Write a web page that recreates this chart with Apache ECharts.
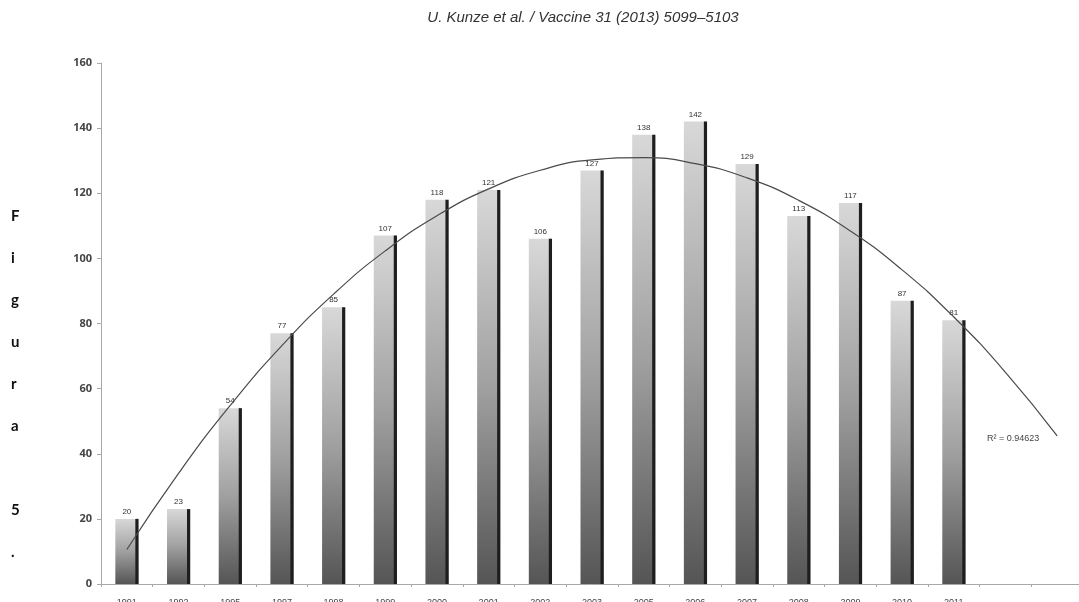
<!DOCTYPE html>
<html>
<head>
<meta charset="utf-8">
<script src="https://cdn.jsdelivr.net/npm/echarts@6/dist/echarts.min.js"></script>
<style>
  html, body { margin: 0; padding: 0; background: #fff; }
  #chart { width: 1079px; height: 602px; }
</style>
</head>
<body>
<div id="chart"></div>
<script>
// Years on the x axis (two trailing empty slots carry the trend projection)
const years = ['1991', '1992', '1995', '1997', '1998', '1999', '2000', '2001', '2002',
               '2003', '2005', '2006', '2007', '2008', '2009', '2010', '2011', '', ''];
// Number of cases per year
const cases = [20, 23, 54, 77, 85, 107, 118, 121, 106, 127, 138, 142, 129, 113, 117, 87, 81];
const yTicks = [0, 20, 40, 60, 80, 100, 120, 140, 160];
const rSquaredText = 'R\u00B2 = 0.94623';

// Second-order least-squares trend over x = 1..n, evaluated across all slots
function quadFit(vals) {
  let s = [0, 0, 0, 0, 0], t = [0, 0, 0];
  vals.forEach((v, i) => {
    const x = i + 1;
    for (let k = 0; k <= 4; k++) s[k] += Math.pow(x, k);
    for (let k = 0; k <= 2; k++) t[k] += v * Math.pow(x, k);
  });
  const M = [[s[0], s[1], s[2], t[0]], [s[1], s[2], s[3], t[1]], [s[2], s[3], s[4], t[2]]];
  for (let c = 0; c < 3; c++) {
    for (let r = c + 1; r < 3; r++) {
      const f = M[r][c] / M[c][c];
      for (let k = c; k < 4; k++) M[r][k] -= f * M[c][k];
    }
  }
  const coef = [0, 0, 0];
  for (let r = 2; r >= 0; r--) {
    let acc = M[r][3];
    for (let k = r + 1; k < 3; k++) acc -= M[r][k] * coef[k];
    coef[r] = acc / M[r][r];
  }
  return coef;
}
const coef = quadFit(cases);
const trend = years.map((_, i) => {
  const x = i + 1;
  return +(coef[0] + coef[1] * x + coef[2] * x * x).toFixed(2);
});

const chart = echarts.init(document.getElementById('chart'));
chart.setOption({
  backgroundColor: '#ffffff',
  animation: false,
  title: {
    text: 'U. Kunze et al. / Vaccine 31 (2013) 5099\u20135103',
    left: 578, top: 5, textAlign: 'center',
    textStyle: { fontFamily: 'Liberation Sans', fontStyle: 'italic', fontWeight: 'normal',
                 fontSize: 15, color: '#333' }
  },
  graphic: [
    {
      type: 'text', left: 11, top: 195,
      style: { text: 'F\ni\ng\nu\nr\na\n\n5\n.', fontFamily: 'Lato', fontWeight: 'bold',
               fontSize: 15, lineHeight: 42, fill: '#111', align: 'center' }
    },
    {
      type: 'text', left: 987, top: 434,
      style: { text: rSquaredText, fontFamily: 'Liberation Sans', fontSize: 9, fill: '#444' }
    }
  ],
  grid: { left: 101, top: 63, width: 982, height: 521, outerBoundsMode: 'none', containLabel: false },
  xAxis: {
    type: 'category',
    data: years,
    boundaryGap: true,
    axisLine: { lineStyle: { color: '#a8a8a8', width: 1 } },
    axisTick: { show: true, length: 3, lineStyle: { color: '#a8a8a8' } },
    axisLabel: { margin: 14, fontSize: 9, color: '#444', fontFamily: 'Liberation Sans', interval: 0 }
  },
  yAxis: {
    type: 'value',
    min: yTicks[0], max: yTicks[yTicks.length - 1], interval: 20,
    axisLine: { show: true, lineStyle: { color: '#a8a8a8', width: 1 } },
    axisTick: { show: true, length: 4, lineStyle: { color: '#a8a8a8' } },
    splitLine: { show: false },
    axisLabel: { margin: 9, fontSize: 11, fontWeight: 'bold', color: '#444', fontFamily: 'Open Sans' }
  },
  series: [
    {
      type: 'bar',
      data: cases,
      barWidth: 23,
      itemStyle: {
        color: new echarts.graphic.LinearGradient(0, 0, 0, 1, [
          { offset: 0, color: '#d8d8d8' },
          { offset: 0.5, color: '#a0a0a0' },
          { offset: 1, color: '#555555' }
        ])
      },
      label: {
        show: true, position: 'top', distance: 3,
        fontSize: 8, color: '#333', fontFamily: 'Liberation Sans'
      },
      z: 2
    },
    {
      // dark shaded right edge of each bar
      type: 'custom',
      data: cases.map((v, i) => [i, v]),
      renderItem: function (params, api) {
        const top = api.coord([api.value(0), api.value(1)]);
        const base = api.coord([api.value(0), 0]);
        return {
          type: 'rect',
          shape: { x: top[0] + 8.5, y: top[1], width: 3.2, height: base[1] - top[1] },
          style: { fill: '#1e1e1e' }
        };
      },
      z: 3
    },
    {
      type: 'line',
      data: trend,
      smooth: true,
      symbol: 'none',
      lineStyle: { color: '#4a4a4a', width: 1.2 },
      z: 4
    }
  ]
});
</script>
</body>
</html>
